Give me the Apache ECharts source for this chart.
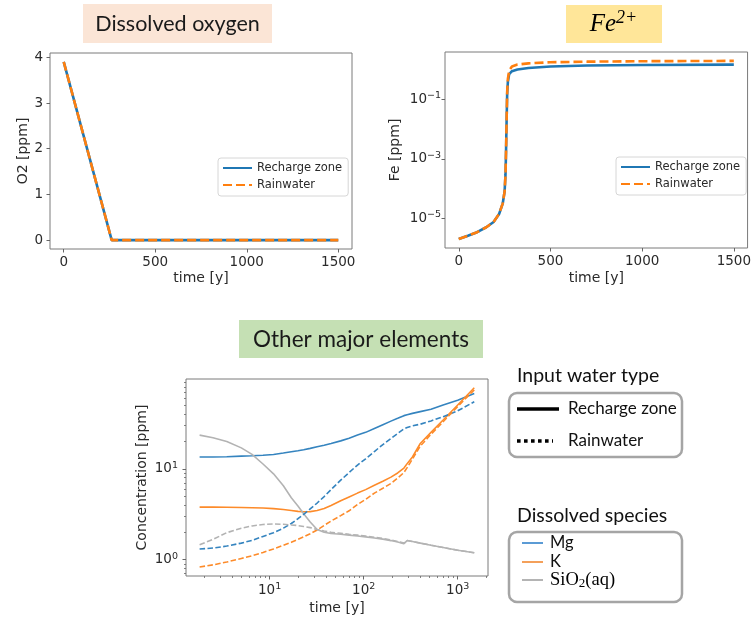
<!DOCTYPE html>
<html><head><meta charset="utf-8">
<script src="https://cdn.jsdelivr.net/npm/echarts@6/dist/echarts.min.js"></script>
<style>html,body{margin:0;padding:0;background:#fff}#c{width:754px;height:621px}</style>
</head><body><div id="c"></div>
<script>
// ---------- data ----------
const o2Time = [0, 262, 500, 1000, 1500];
const o2Recharge = [3.9, 0, 0, 0, 0];
const o2Rain = [3.9, 0, 0, 0, 0];

const feTime = [0, 50, 100, 150, 190, 220, 240, 250, 255, 258, 261, 264, 268, 275, 290, 320, 380, 500, 700, 1000, 1500];
const feRecharge = [2.0e-6, 2.6e-6, 3.4e-6, 5.0e-6, 7.5e-6, 1.4e-5, 3.2e-5, 8e-5, 3e-4, 2e-3, 0.02, 0.15, 0.4, 0.72, 0.9, 1.03, 1.15, 1.3, 1.4, 1.46, 1.5];
const feRain = [2.0e-6, 2.6e-6, 3.4e-6, 5.0e-6, 7.5e-6, 1.4e-5, 3.2e-5, 8e-5, 3e-4, 2e-3, 0.02, 0.18, 0.5, 0.95, 1.3, 1.5, 1.65, 1.8, 1.88, 1.95, 2.0];

const tBottom = [1.8, 2.5, 3.5, 5, 6.5, 8.5, 11, 14, 17, 20, 23, 27, 32, 38, 45, 57, 70, 86, 105, 130, 160, 195, 230, 268, 290, 330, 400, 520, 700, 1000, 1500];
const mgRecharge = [13.5, 13.5, 13.6, 13.8, 13.9, 14.1, 14.4, 14.9, 15.4, 15.8, 16.2, 16.8, 17.5, 18.2, 19.0, 20.3, 21.7, 23.5, 25.2, 27.8, 30.6, 33.5, 36.0, 38.5, 39.4, 40.8, 42.6, 45.2, 50.5, 57.0, 67.6];
const mgRain = [1.31, 1.34, 1.41, 1.52, 1.63, 1.80, 1.98, 2.22, 2.5, 2.82, 3.15, 3.62, 4.2, 4.95, 5.9, 7.5, 9.1, 11.0, 12.9, 15.5, 18.5, 21.6, 24.5, 27.5, 28.5, 29.7, 31.0, 33.7, 37.5, 43.5, 54.7];
const kRecharge = [3.78, 3.78, 3.77, 3.75, 3.73, 3.70, 3.64, 3.57, 3.48, 3.40, 3.36, 3.38, 3.47, 3.65, 3.95, 4.45, 4.9, 5.4, 5.9, 6.6, 7.3, 8.1, 9.0, 10.2, 11.4, 13.5, 19.0, 25.2, 34.5, 50.5, 78];
const kRain = [0.83, 0.875, 0.94, 1.03, 1.10, 1.20, 1.31, 1.44, 1.55, 1.67, 1.78, 1.93, 2.12, 2.38, 2.66, 3.05, 3.45, 4.05, 4.6, 5.4, 6.1, 6.9, 7.9, 9.1, 10.3, 12.8, 17.8, 24, 33, 48.5, 74];
const sioRecharge = [23.5, 22.0, 20.0, 17.0, 14.4, 11.3, 8.8, 6.5, 4.8, 3.9, 3.2, 2.6, 2.15, 2.0, 1.94, 1.9, 1.86, 1.82, 1.78, 1.73, 1.68, 1.62, 1.56, 1.50, 1.62, 1.58, 1.52, 1.44, 1.36, 1.27, 1.19];
const sioRain = [1.46, 1.67, 1.98, 2.22, 2.35, 2.44, 2.47, 2.45, 2.41, 2.37, 2.32, 2.25, 2.15, 2.07, 2.0, 1.95, 1.9, 1.86, 1.82, 1.76, 1.71, 1.65, 1.58, 1.52, 1.62, 1.58, 1.52, 1.44, 1.36, 1.27, 1.19];

const linTimeTicks = [0, 500, 1000, 1500];
const o2Ticks = [0, 1, 2, 3, 4];
const feTicks = [1e-5, 1e-3, 1e-1];
const logTimeTicks = [10, 100, 1000];
const concTicks = [1, 10];
const logTimeMinor = [2, 3, 4, 5, 6, 7, 8, 9, 20, 30, 40, 50, 60, 70, 80, 90, 200, 300, 400, 500, 600, 700, 800, 900, 2000];
const concMinor = [0.7, 0.8, 0.9, 2, 3, 4, 5, 6, 7, 8, 9, 20, 30, 40, 50, 60, 70, 80, 90];

// ---------- styles ----------
const F = 'DejaVu Sans';
const TXT = '#2a2a2a';
const AX = '#666';
const BLUE = '#1f77b4', ORANGE = '#ff7f0e';
const BLUE2 = '#3584bf', ORANGE2 = '#fd8b2a', GRAY2 = '#b3b3b3';
const pairs = (xs, ys) => xs.map((x, i) => [x, ys[i]]);
const plainFmt = v => String(v);
const supFmt = v => { const e = Math.round(Math.log10(v)); return '{b|10}{s|' + (e < 0 ? '\u2212' + (-e) : e) + '}'; };
const richSup = {
  b: { fontSize: 13.5, fontFamily: F, color: TXT, lineHeight: 17 },
  s: { fontSize: 9.5, fontFamily: F, color: TXT, lineHeight: 11, verticalAlign: 'top' }
};
const nameStyle = { fontSize: 14, color: TXT, fontFamily: F };

function axis(o) {
  const base = {
    axisLine: { show: false, onZero: false },
    splitLine: { show: false },
    axisTick: { show: true, inside: false, length: 3.5, lineStyle: { color: AX, width: 1 }, customValues: o.ticks },
    axisLabel: { show: true, customValues: o.ticks, fontSize: 13.5, color: TXT, fontFamily: F, margin: o.margin, formatter: o.fmt || plainFmt },
    nameLocation: 'middle', nameTextStyle: nameStyle
  };
  if (o.fmt) { base.axisLabel.rich = richSup; }
  delete o.ticks; delete o.margin; delete o.fmt;
  return Object.assign(base, o);
}
function minorAxis(o) {
  const t = o.ticks; delete o.ticks;
  return Object.assign({
    axisLine: { show: false, onZero: false }, splitLine: { show: false }, axisLabel: { show: false },
    axisTick: { show: true, inside: false, length: 2, lineStyle: { color: AX, width: 0.8 }, customValues: t }
  }, o);
}
const gridStyle = { show: true, borderColor: '#7a7a7a', borderWidth: 1, backgroundColor: '#fff' };

const legendBase = {
  orient: 'vertical', itemWidth: 29, itemHeight: 10, itemGap: 5,
  padding: [4, 6, 5, 4], backgroundColor: '#fff', borderColor: '#d6d6d6', borderWidth: 1, borderRadius: 3,
  textStyle: { fontSize: 11.5, fontFamily: F, color: TXT },
  itemStyle: { opacity: 0 },
  data: ['Recharge zone', 'Rainwater']
};

const TF = 'Lato';
function txt(x, y, text, size, extra) {
  return { type: 'text', x: x, y: y, style: Object.assign({ text: text, fontSize: size, fontFamily: TF, fill: '#111', align: 'left', verticalAlign: 'middle', textAlign: 'left', textVerticalAlign: 'middle' }, extra || {}) };
}

const option = {
  animation: false,
  backgroundColor: '#fff',
  grid: [
    Object.assign({ left: 50, top: 53, width: 302, height: 196 }, gridStyle),
    Object.assign({ left: 445, top: 52, width: 303, height: 196 }, gridStyle),
    Object.assign({ left: 186, top: 379, width: 302, height: 197 }, gridStyle)
  ],
  xAxis: [
    axis({ type: 'value', gridIndex: 0, min: -75, max: 1575, ticks: linTimeTicks, margin: 6, name: 'time [y]', nameGap: 22 }),
    axis({ type: 'value', gridIndex: 1, min: -75, max: 1575, ticks: linTimeTicks, margin: 6, name: 'time [y]', nameGap: 23 }),
    axis({ type: 'log', logBase: 10, gridIndex: 2, min: 1.29, max: 2100, ticks: logTimeTicks, margin: 6, fmt: supFmt, name: 'time [y]', nameGap: 25 }),
    minorAxis({ type: 'log', logBase: 10, gridIndex: 2, min: 1.29, max: 2100, position: 'bottom', ticks: logTimeMinor })
  ],
  yAxis: [
    axis({ type: 'value', gridIndex: 0, min: -0.195, max: 4.095, ticks: o2Ticks, margin: 7, name: 'O2 [ppm]', nameGap: 12 }),
    axis({ type: 'log', logBase: 10, gridIndex: 1, min: 1e-6, max: 3.98, ticks: feTicks, margin: 4, fmt: supFmt, name: 'Fe [ppm]', nameGap: 43 }),
    axis({ type: 'log', logBase: 10, gridIndex: 2, min: 0.66, max: 97.5, ticks: concTicks, margin: 8, fmt: supFmt, name: 'Concentration [ppm]', nameGap: 37 }),
    minorAxis({ type: 'log', logBase: 10, gridIndex: 2, min: 0.66, max: 97.5, position: 'left', ticks: concMinor })
  ],
  legend: [
    Object.assign({ left: 218, top: 158 }, legendBase),
    Object.assign({ left: 616, top: 157 }, legendBase)
  ],
  series: [
    { name: 'Recharge zone', type: 'line', xAxisIndex: 0, yAxisIndex: 0, data: pairs(o2Time, o2Recharge), symbol: 'none', lineStyle: { color: BLUE, width: 2.6 }, itemStyle: { color: BLUE } },
    { name: 'Rainwater', type: 'line', xAxisIndex: 0, yAxisIndex: 0, data: pairs(o2Time, o2Rain), symbol: 'none', lineStyle: { color: ORANGE, width: 2.6, type: [9, 4] }, itemStyle: { color: ORANGE } },
    { name: 'Recharge zone', type: 'line', xAxisIndex: 1, yAxisIndex: 1, data: pairs(feTime, feRecharge), symbol: 'none', lineStyle: { color: BLUE, width: 2.6 }, itemStyle: { color: BLUE } },
    { name: 'Rainwater', type: 'line', xAxisIndex: 1, yAxisIndex: 1, data: pairs(feTime, feRain), symbol: 'none', lineStyle: { color: ORANGE, width: 2.6, type: [9, 4] }, itemStyle: { color: ORANGE } },
    { name: 'Mg recharge', type: 'line', xAxisIndex: 2, yAxisIndex: 2, data: pairs(tBottom, mgRecharge), symbol: 'none', lineStyle: { color: BLUE2, width: 1.6 } },
    { name: 'K recharge', type: 'line', xAxisIndex: 2, yAxisIndex: 2, data: pairs(tBottom, kRecharge), symbol: 'none', lineStyle: { color: ORANGE2, width: 1.6 } },
    { name: 'SiO2 recharge', type: 'line', xAxisIndex: 2, yAxisIndex: 2, data: pairs(tBottom, sioRecharge), symbol: 'none', lineStyle: { color: GRAY2, width: 1.6 } },
    { name: 'Mg rain', type: 'line', xAxisIndex: 2, yAxisIndex: 2, data: pairs(tBottom, mgRain), symbol: 'none', lineStyle: { color: BLUE2, width: 1.6, type: [5.5, 2.4] } },
    { name: 'K rain', type: 'line', xAxisIndex: 2, yAxisIndex: 2, data: pairs(tBottom, kRain), symbol: 'none', lineStyle: { color: ORANGE2, width: 1.6, type: [5.5, 2.4] } },
    { name: 'SiO2 rain', type: 'line', xAxisIndex: 2, yAxisIndex: 2, data: pairs(tBottom, sioRain), symbol: 'none', lineStyle: { color: GRAY2, width: 1.6, type: [5.5, 2.4] } }
  ],
  graphic: [
    { type: 'rect', shape: { x: 83, y: 4, width: 189, height: 39 }, style: { fill: '#fbe5d6' } },
    txt(177.5, 24, 'Dissolved oxygen', 21.5, { align: 'center', textAlign: 'center', fill: '#1a1a1a' }),
    { type: 'rect', shape: { x: 566, y: 5, width: 96, height: 38 }, style: { fill: '#ffe699' } },
    { type: 'text', x: 613.5, y: 24, style: { text: '{a|Fe}{s|2+}', align: 'center', verticalAlign: 'middle', textAlign: 'center', textVerticalAlign: 'middle',
      rich: { a: { fontFamily: 'Liberation Serif', fontStyle: 'italic', fontSize: 25, lineHeight: 30, color: '#111' },
              s: { fontFamily: 'Liberation Serif', fontStyle: 'italic', fontSize: 18, lineHeight: 18, verticalAlign: 'top', color: '#111' } } } },
    { type: 'rect', shape: { x: 239, y: 320, width: 244, height: 38 }, style: { fill: '#c5e0b4' } },
    txt(361, 339.5, 'Other major elements', 22.5, { align: 'center', textAlign: 'center', fill: '#1a1a1a' }),

    txt(517, 376, 'Input water type', 19.5),
    { type: 'rect', shape: { x: 509, y: 393, width: 173, height: 64, r: 8 }, style: { fill: '#fff', stroke: '#a5a5a5', lineWidth: 2.5 } },
    { type: 'line', shape: { x1: 517, y1: 409, x2: 559, y2: 409 }, style: { stroke: '#000', lineWidth: 3.5 } },
    txt(568, 409, 'Recharge zone', 17),
    { type: 'line', shape: { x1: 517, y1: 441, x2: 553, y2: 441 }, style: { stroke: '#000', lineWidth: 3.5, lineDash: [3.6, 3.4] } },
    txt(568, 441, 'Rainwater', 17),

    txt(517, 516, 'Dissolved species', 19.5),
    { type: 'rect', shape: { x: 509, y: 532, width: 173, height: 70, r: 8 }, style: { fill: '#fff', stroke: '#a5a5a5', lineWidth: 2.5 } },
    { type: 'line', shape: { x1: 522, y1: 543, x2: 543, y2: 543 }, style: { stroke: '#5b9bd5', lineWidth: 2 } },
    txt(550, 543, 'Mg', 16.5),
    { type: 'line', shape: { x1: 522, y1: 562, x2: 543, y2: 562 }, style: { stroke: '#f4a05a', lineWidth: 2 } },
    txt(550, 562, 'K', 16.5),
    { type: 'line', shape: { x1: 522, y1: 580, x2: 543, y2: 580 }, style: { stroke: '#b4b4b4', lineWidth: 2 } },
    { type: 'text', x: 550, y: 580, style: { text: '{a|SiO}{s|2}{a|(aq)}', align: 'left', verticalAlign: 'middle', textAlign: 'left', textVerticalAlign: 'middle',
      rich: { a: { fontFamily: 'Liberation Serif', fontSize: 18.5, lineHeight: 20, color: '#111' },
              s: { fontFamily: 'Liberation Serif', fontSize: 13, lineHeight: 12, verticalAlign: 'bottom', color: '#111' } } } }
  ]
};

const chart = echarts.init(document.getElementById('c'), null, { renderer: 'canvas' });
chart.setOption(option);
</script>
</body></html>
